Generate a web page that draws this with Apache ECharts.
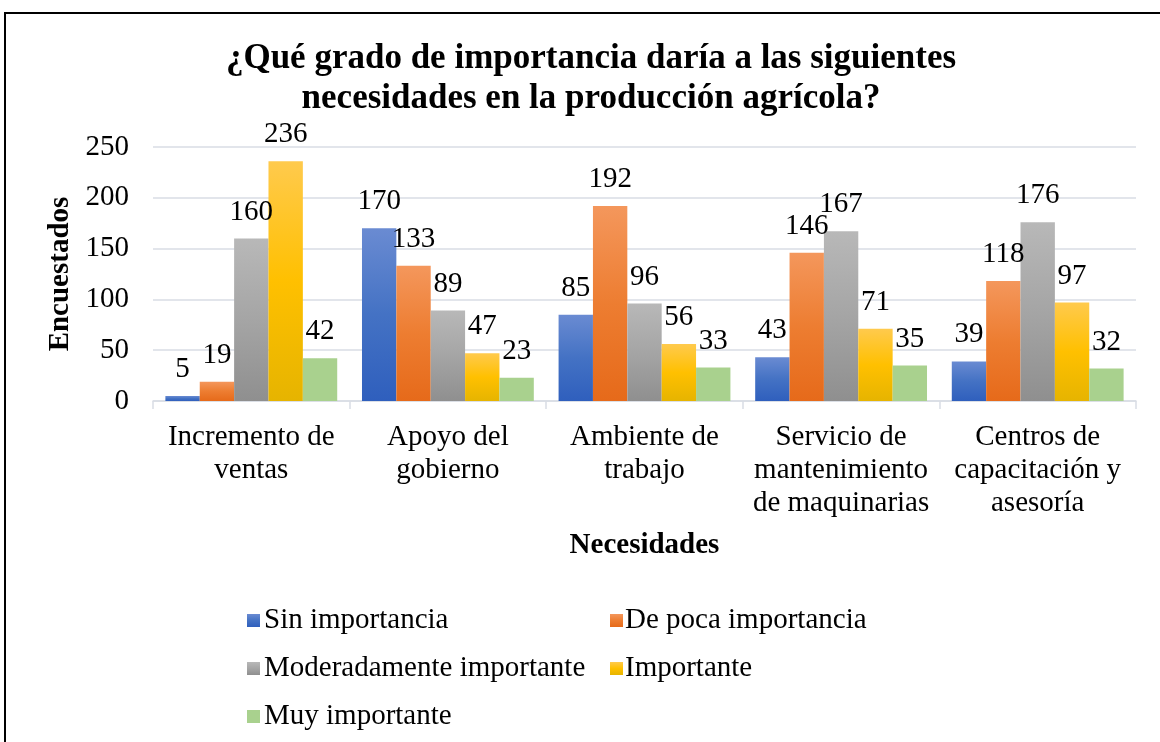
<!DOCTYPE html>
<html>
<head>
<meta charset="utf-8">
<style>
  html, body { margin: 0; padding: 0; background: #fff; }
  #chart { width: 1160px; height: 742px; }
</style>
<script src="https://cdn.jsdelivr.net/npm/echarts@6/dist/echarts.min.js"></script>
</head>
<body>
<div id="chart"></div>
<script>
var categories = ['Incremento de\nventas', 'Apoyo del\ngobierno', 'Ambiente de\ntrabajo', 'Servicio de\nmantenimiento\nde maquinarias', 'Centros de\ncapacitación y\nasesoría'];
var seriesNames = ['Sin importancia', 'De poca importancia', 'Moderadamente importante', 'Importante', 'Muy importante'];
var sinImportancia = [5, 170, 85, 43, 39];
var dePoca = [19, 133, 192, 146, 118];
var moderada = [160, 89, 96, 167, 176];
var importante = [236, 47, 56, 71, 97];
var muyImportante = [42, 23, 33, 35, 32];
var yTicks = [0, 50, 100, 150, 200, 250];

var font = '"Liberation Serif", "Times New Roman", serif';
// light top -> base -> darker bottom, like the office gradient fill
var fills = [
  ['#6a8bd2', '#4472c4', '#2f5fbd'],
  ['#f4975c', '#ed7d31', '#e66a1a'],
  ['#b8b8b8', '#a5a5a5', '#8f8f8f'],
  ['#ffca4d', '#ffc000', '#e6b400'],
  ['#a9d18e', '#a9d18e', '#a9d18e']
];

function grad(c) {
  return new echarts.graphic.LinearGradient(0, 0, 0, 1, [
    { offset: 0, color: c[0] },
    { offset: 0.5, color: c[1] },
    { offset: 1, color: c[2] }
  ]);
}

var values = [sinImportancia, dePoca, moderada, importante, muyImportante];
var series = values.map(function (v, i) {
  return {
    name: seriesNames[i],
    type: 'bar',
    data: v,
    barGap: '0%',
    barCategoryGap: '12.6%',
    itemStyle: { color: grad(fills[i]) },
    label: {
      show: true,
      position: 'top',
      distance: 12,
      color: '#000',
      fontFamily: font,
      fontSize: 29
    }
  };
});

var legendText = { fontFamily: font, fontSize: 29, color: '#000' };

var chart = echarts.init(document.getElementById('chart'));
chart.setOption({
  backgroundColor: '#fff',
  animation: false,
  title: {
    text: '¿Qué grado de importancia daría a las siguientes\nnecesidades en la producción agrícola?',
    left: 586,
    top: 34,
    textAlign: 'center',
    textStyle: { fontFamily: font, fontSize: 35, fontWeight: 'bold', color: '#000', lineHeight: 40 }
  },
  legend: [
    {
      orient: 'vertical',
      left: 242,
      top: 601,
      icon: 'rect',
      itemWidth: 13,
      itemHeight: 13,
      itemGap: 19,
      data: [seriesNames[0], seriesNames[2], seriesNames[4]],
      textStyle: Object.assign({ padding: [0, 0, 0, -1] }, legendText)
    },
    {
      orient: 'vertical',
      left: 605,
      top: 601,
      icon: 'rect',
      itemWidth: 13,
      itemHeight: 13,
      itemGap: 19,
      data: [seriesNames[1], seriesNames[3]],
      textStyle: Object.assign({ padding: [0, 0, 0, -3] }, legendText)
    }
  ],
  grid: { left: 153, right: 24, top: 147, bottom: 341, containLabel: false },
  xAxis: {
    type: 'category',
    data: categories,
    name: 'Necesidades',
    nameLocation: 'middle',
    nameGap: 130,
    nameTextStyle: { fontFamily: font, fontSize: 29, fontWeight: 'bold', color: '#000' },
    axisLine: { lineStyle: { color: '#d9dde5', width: 1.5 } },
    axisTick: { show: true, length: 8, lineStyle: { color: '#d9dde5', width: 1.5 } },
    axisLabel: { interval: 0, fontFamily: font, fontSize: 29, color: '#000', lineHeight: 33, margin: 20 }
  },
  yAxis: {
    type: 'value',
    min: yTicks[0],
    max: yTicks[yTicks.length - 1],
    interval: 50,
    name: 'Encuestados',
    nameLocation: 'middle',
    nameRotate: 90,
    nameGap: 76,
    nameTextStyle: { fontFamily: font, fontSize: 29, fontWeight: 'bold', color: '#000' },
    axisLine: { show: false },
    axisTick: { show: false },
    splitLine: { lineStyle: { color: '#d9dde5', width: 1.5 } },
    axisLabel: { fontFamily: font, fontSize: 29, color: '#000', margin: 24 }
  },
  graphic: [
    {
      type: 'polyline',
      shape: { points: [[5, 742], [5, 13], [1160, 13]] },
      style: { stroke: '#000', lineWidth: 2, fill: null },
      silent: true
    }
  ],
  series: series
});
</script>
</body>
</html>
